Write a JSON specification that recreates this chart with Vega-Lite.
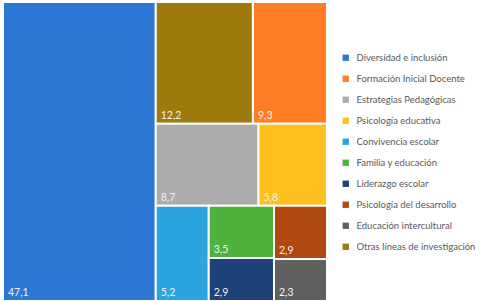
{
  "$schema": "https://vega.github.io/schema/vega-lite/v6.json",
  "autosize": {"type": "none"},
  "padding": {"left": 3, "top": 2, "right": 160, "bottom": 0},
  "width": 324,
  "height": 299,
  "background": "white",
  "config": {"view": {"stroke": null}},
  "data": {
    "values": [
      {"category": "Diversidad e inclusión", "value": 47.1, "col": 1, "row": 1, "sub": 1, "item": 1},
      {"category": "Otras líneas de investigación", "value": 12.2, "col": 2, "row": 1, "sub": 1, "item": 1},
      {"category": "Formación Inicial Docente", "value": 9.3, "col": 2, "row": 1, "sub": 2, "item": 1},
      {"category": "Estrategias Pedagógicas", "value": 8.7, "col": 2, "row": 2, "sub": 1, "item": 1},
      {"category": "Psicología educativa", "value": 5.8, "col": 2, "row": 2, "sub": 2, "item": 1},
      {"category": "Convivencia escolar", "value": 5.2, "col": 2, "row": 3, "sub": 1, "item": 1},
      {"category": "Familia y educación", "value": 3.5, "col": 2, "row": 3, "sub": 2, "item": 1},
      {"category": "Liderazgo escolar", "value": 2.9, "col": 2, "row": 3, "sub": 2, "item": 2},
      {"category": "Psicología del desarrollo", "value": 2.9, "col": 2, "row": 3, "sub": 3, "item": 1},
      {"category": "Educación intercultural", "value": 2.3, "col": 2, "row": 3, "sub": 3, "item": 2}
    ]
  },
  "transform": [
    {"joinaggregate": [{"op": "sum", "field": "value", "as": "total"}]},
    {"joinaggregate": [{"op": "sum", "field": "value", "as": "colSum"}], "groupby": ["col"]},
    {"window": [{"op": "sum", "field": "value", "as": "colCum"}], "sort": [{"field": "col"}], "frame": [null, 0], "ignorePeers": false},
    {"joinaggregate": [{"op": "sum", "field": "value", "as": "rowSum"}], "groupby": ["col", "row"]},
    {"window": [{"op": "sum", "field": "value", "as": "rowCum"}], "groupby": ["col"], "sort": [{"field": "row"}], "frame": [null, 0], "ignorePeers": false},
    {"joinaggregate": [{"op": "sum", "field": "value", "as": "subSum"}], "groupby": ["col", "row", "sub"]},
    {"window": [{"op": "sum", "field": "value", "as": "subCum"}], "groupby": ["col", "row"], "sort": [{"field": "sub"}], "frame": [null, 0], "ignorePeers": false},
    {"window": [{"op": "sum", "field": "value", "as": "itemCum"}], "groupby": ["col", "row", "sub"], "sort": [{"field": "item"}], "frame": [null, 0], "ignorePeers": false},
    {"calculate": "(datum.colCum - datum.colSum) / datum.total", "as": "cx0"},
    {"calculate": "datum.colCum / datum.total", "as": "cx1"},
    {"calculate": "(datum.rowCum - datum.rowSum) / datum.colSum", "as": "ry0"},
    {"calculate": "datum.rowCum / datum.colSum", "as": "ry1"},
    {"calculate": "datum.cx0 + (datum.cx1 - datum.cx0) * (datum.subCum - datum.subSum) / datum.rowSum", "as": "x0"},
    {"calculate": "datum.cx0 + (datum.cx1 - datum.cx0) * datum.subCum / datum.rowSum", "as": "x1"},
    {"calculate": "datum.ry0 + (datum.ry1 - datum.ry0) * (datum.itemCum - datum.value) / datum.subSum", "as": "y0"},
    {"calculate": "datum.ry0 + (datum.ry1 - datum.ry0) * datum.itemCum / datum.subSum", "as": "y1"},
    {"calculate": "replace(format(datum.value, '.1f'), '.', ',')", "as": "label"}
  ],
  "layer": [
    {
      "mark": {"type": "rect", "stroke": "white", "strokeWidth": 2},
      "encoding": {
        "x": {"field": "x0", "type": "quantitative", "scale": {"domain": [0, 1]}, "axis": null},
        "x2": {"field": "x1"},
        "y": {"field": "y0", "type": "quantitative", "scale": {"domain": [0, 1], "reverse": true}, "axis": null},
        "y2": {"field": "y1"},
        "color": {
          "field": "category",
          "type": "nominal",
          "scale": {
            "domain": ["Diversidad e inclusión", "Formación Inicial Docente", "Estrategias Pedagógicas", "Psicología educativa", "Convivencia escolar", "Familia y educación", "Liderazgo escolar", "Psicología del desarrollo", "Educación intercultural", "Otras líneas de investigación"],
            "range": ["#2B78D4", "#FF7D24", "#ABABAB", "#FFBF1C", "#2AA5E0", "#4DB33C", "#1E4178", "#B0480F", "#5F5F5F", "#9C7A0E"]
          },
          "legend": {
            "title": null,
            "orient": "none",
            "legendX": 338,
            "legendY": 51,
            "symbolType": "square",
            "symbolSize": 40,
            "symbolStrokeWidth": 0,
            "labelFont": "Lato",
            "labelFontSize": 9.5,
            "labelColor": "#595959",
            "labelOffset": 6,
            "rowPadding": 10,
            "labelLimit": 200
          }
        }
      }
    },
    {
      "mark": {"type": "text", "align": "left", "baseline": "bottom", "dx": 5, "dy": -3, "font": "Lato", "fontSize": 10.5, "color": "#F2F2F2"},
      "encoding": {
        "x": {"field": "x0", "type": "quantitative"},
        "y": {"field": "y1", "type": "quantitative"},
        "text": {"field": "label", "type": "nominal"}
      }
    }
  ]
}
